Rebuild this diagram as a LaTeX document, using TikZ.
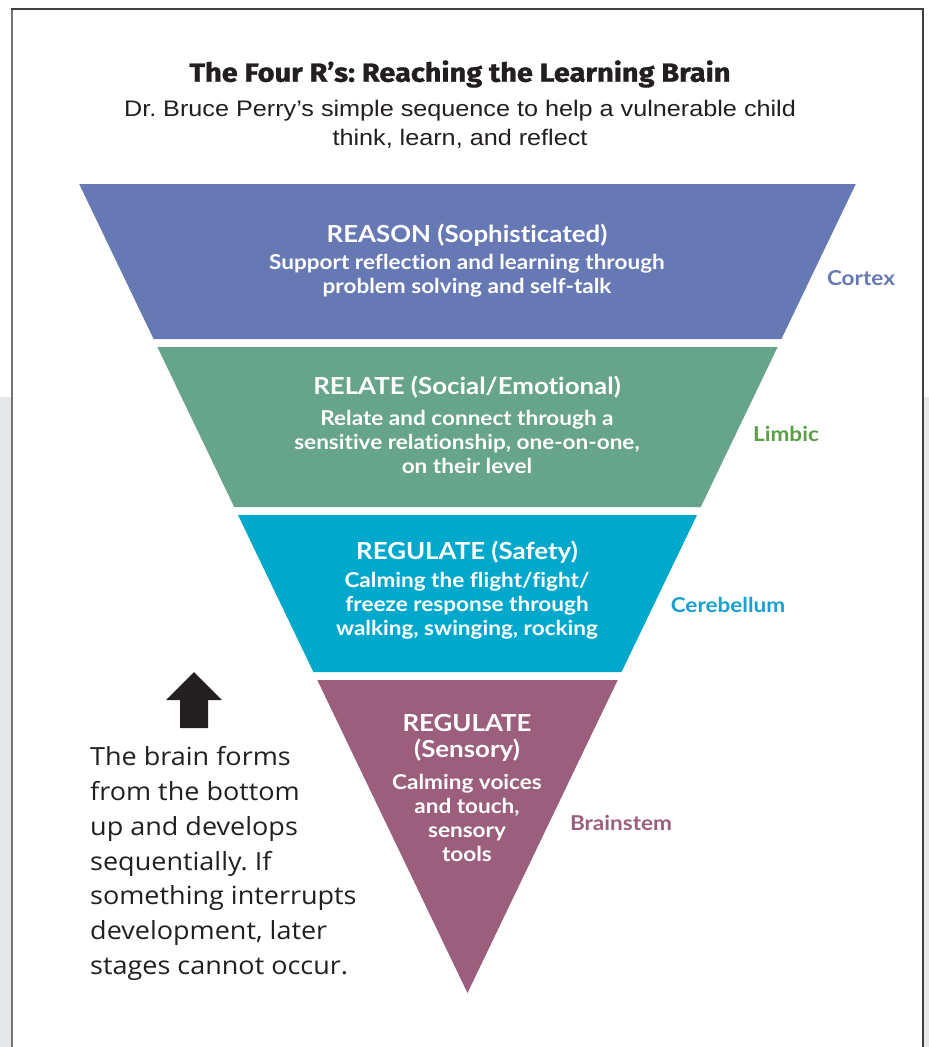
\documentclass[tikz,border=0pt]{standalone}
\usepackage{fontspec}
\setmainfont[FakeStretch=1.1, Ligatures=NoCommon]{Lato}
\newfontfamily\titlefont[FakeStretch=1.1, FakeBold=1.2]{Fira Sans}
\newfontfamily\subfont[FakeStretch=1.12]{Liberation Sans}
\newfontfamily\leftfont[FakeStretch=1.08]{Open Sans}
\frenchspacing
\definecolor{bandA}{HTML}{6779B5}
\definecolor{bandB}{HTML}{67A48C}
\definecolor{bandC}{HTML}{00A8CC}
\definecolor{bandD}{HTML}{9C5E7D}
\definecolor{lblB}{HTML}{5A9E46}
\definecolor{lblC}{HTML}{1AA0D0}
\definecolor{ink}{HTML}{231F20}
\definecolor{pagegray}{HTML}{E6E7E8}
\tikzset{
  bandhead/.style={text=white, font=\fontsize{23.5}{24}\selectfont\bfseries, inner sep=0pt, align=center},
  bandbody/.style={text=white, font=\fontsize{20.5}{24}\selectfont\bfseries, inner sep=0pt, align=center},
  sidelabel/.style={font=\fontsize{20.5}{22}\selectfont\bfseries, inner sep=0pt},
}
\begin{document}
\begin{tikzpicture}[x=1pt,y=-1pt]
\useasboundingbox (0,0) rectangle (929,1047);
% page background
\fill[pagegray] (0,397) rectangle (929,1047);
\fill[white] (11,9) rectangle (923,1047);
\draw[line width=2pt, color=black!55] (11.5,1047) -- (11.5,9);
\draw[line width=2pt, color=black!75] (10.5,9) -- (923,9) -- (923,1047);
% bands
\fill[bandA] (79.2,184) -- (855.8,184) -- (781.4,339) -- (153.6,339) -- cycle;
\fill[bandB] (157.4,347) -- (777.6,347) -- (700.8,507) -- (234.2,507) -- cycle;
\fill[bandC] (238.0,515) -- (697.0,515) -- (621.5,672) -- (313.4,672) -- cycle;
\fill[bandD] (317.3,680) -- (617.7,680) -- (467.5,993) -- cycle;
% title
\node[inner sep=0pt, text=ink, font=\titlefont\fontsize{26.3}{28}\selectfont\bfseries] (title) at (460,74) {The Four R’s: Reaching the Learning Brain};
\node[inner sep=0pt, text=ink, align=center, font=\subfont\fontsize{22.5}{29}\selectfont] (sub) at (460,124) {Dr. Bruce Perry’s simple sequence to help a vulnerable child\\think, learn, and reflect};
% band texts
\node[bandhead] (h1) at (467,235) {REASON (Sophisticated)};
\node[bandbody] (b1) at (467,276) {Support reflection and learning through\\problem solving and self-talk};
\node[bandhead] (h2) at (467,387) {RELATE (Social/Emotional)};
\node[bandbody] (b2) at (467,442) {Relate and connect through a\\sensitive relationship, one-on-one,\\on their level};
\node[bandhead] (h3) at (467,552) {REGULATE (Safety)};
\node[bandbody] (b3) at (467,606) {Calming the flight/fight/\\freeze response through\\walking, swinging, rocking};
\node[bandhead, font=\fontsize{23.5}{26}\selectfont\bfseries] (h4) at (467,738) {REGULATE\\(Sensory)};
\node[bandbody] (b4) at (467,818) {Calming voices\\and touch,\\sensory\\tools};
% side labels
\node[sidelabel, text=bandA] (cortex) at (861,278) {Cortex};
\node[sidelabel, text=lblB] (limbic) at (786,434) {Limbic};
\node[sidelabel, text=lblC] (cereb) at (728,605) {Cerebellum};
\node[sidelabel, text=bandD] (brainstem) at (621,823) {Brainstem};
% arrow
\fill[ink] (194,672) -- (222,700) -- (208,700) -- (208,728) -- (180,728) -- (180,700) -- (166,700) -- cycle;
% left text
\node[anchor=west, inner sep=0pt, align=left, text=ink, font=\leftfont\fontsize{25}{34.8}\selectfont] (note) at (90,863.5) {The brain forms\\from the bottom\\up and develops\\sequentially. If\\something interrupts\\development, later\\stages cannot occur.};
\end{tikzpicture}
\end{document}
